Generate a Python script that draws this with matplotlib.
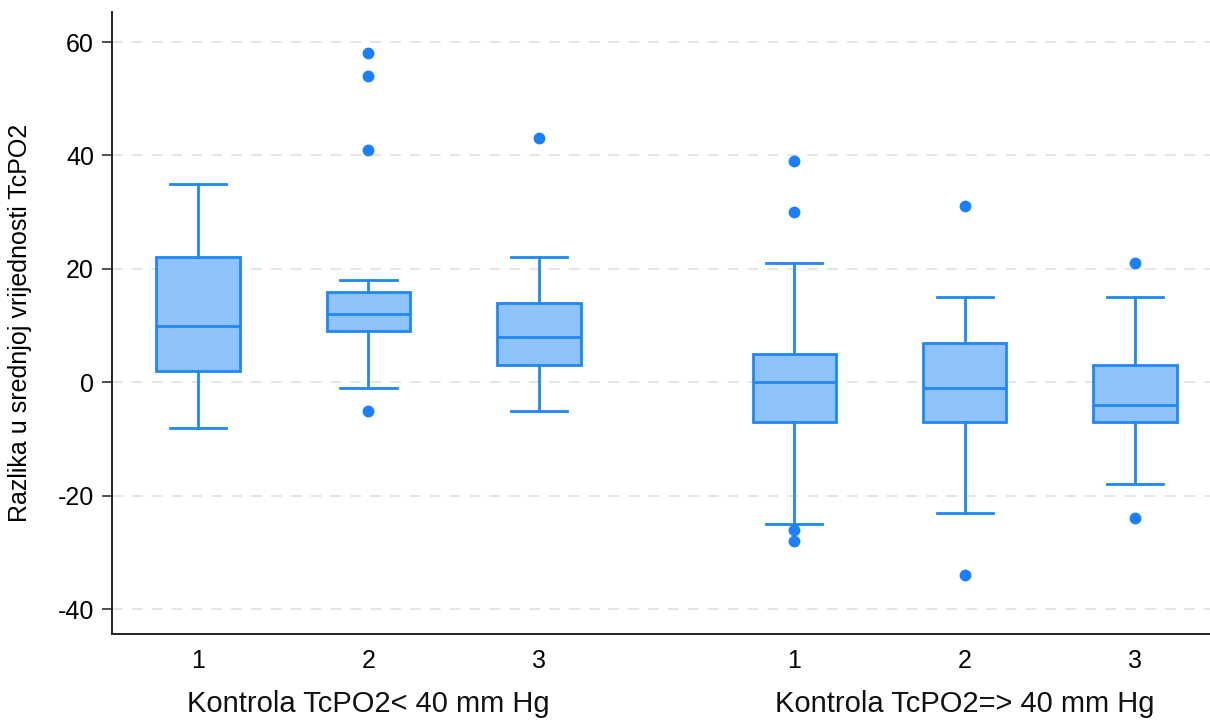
import matplotlib
matplotlib.use("Agg")
import matplotlib.pyplot as plt

plt.rcParams['font.family'] = ['Liberation Sans', 'DejaVu Sans']

# Data
sub_labels = ["1", "2", "3", "1", "2", "3"]
group_labels = ["Kontrola TcPO2< 40 mm Hg", "Kontrola TcPO2=> 40 mm Hg"]
whisker_low = [-8, -1, -5, -25, -23, -18]
q1 = [2, 9, 3, -7, -7, -7]
median = [10, 12, 8, 0, -1, -4]
q3 = [22, 16, 14, 5, 7, 3]
whisker_high = [35, 18, 22, 21, 15, 15]
outliers = [[], [58, 54, 41, -5], [43], [39, 30, -26, -28], [31, -34], [21, -24]]
positions = [1, 2, 3, 4.5, 5.5, 6.5]
group_centers = [2, 5.5]
yticks = [-40, -20, 0, 20, 40, 60]

line_c = "#1f88f5"
fill_c = "#8fc1fa"
dot_c = "#1a80ff"

fig = plt.figure(figsize=(12.1, 7.22), dpi=100)
ax = fig.add_axes([0.0926, 0.1219, 0.9074, 0.8615])

stats = []
for i in range(len(positions)):
    stats.append(dict(whislo=whisker_low[i], q1=q1[i], med=median[i], q3=q3[i],
                      whishi=whisker_high[i], fliers=outliers[i]))

ax.bxp(stats, positions=positions, widths=0.49, patch_artist=True, showfliers=True,
       boxprops=dict(facecolor=fill_c, edgecolor=line_c, linewidth=2),
       medianprops=dict(color=line_c, linewidth=2),
       whiskerprops=dict(color=line_c, linewidth=2),
       capprops=dict(color=line_c, linewidth=2),
       capwidths=0.33,
       flierprops=dict(marker='o', markerfacecolor=dot_c, markeredgecolor=dot_c,
                       markersize=7.5, linestyle='none'))

ax.set_xlim(0.495, 6.94)
ax.set_ylim(-44.4, 65.3)
ax.set_yticks(yticks)
ax.set_yticklabels([str(t) for t in yticks], fontsize=18)
ax.set_xticks(positions)
ax.set_xticklabels(sub_labels, fontsize=18)
ax.tick_params(axis='x', length=0, pad=11)
ax.tick_params(axis='y', length=7, width=1.2, color='#333333', pad=6)
for t in yticks:
    ax.axhline(t, color='#e3e3e3', linestyle=(0, (6, 5)), linewidth=1.3, zorder=0)

for s in ['top', 'right']:
    ax.spines[s].set_visible(False)
for s in ['left', 'bottom']:
    ax.spines[s].set_linewidth(1.4)
    ax.spines[s].set_color('#222222')

for c, lab in zip(group_centers, group_labels):
    ax.text(c, -0.113, lab, transform=ax.get_xaxis_transform(), ha='center', va='center',
            fontsize=21, color='#111111')

ax.set_ylabel("Razlika u srednjoj vrijednosti TcPO2", fontsize=18)
ax.yaxis.set_label_coords(-0.073, 0.5)

fig.savefig("out.png", dpi=100)
